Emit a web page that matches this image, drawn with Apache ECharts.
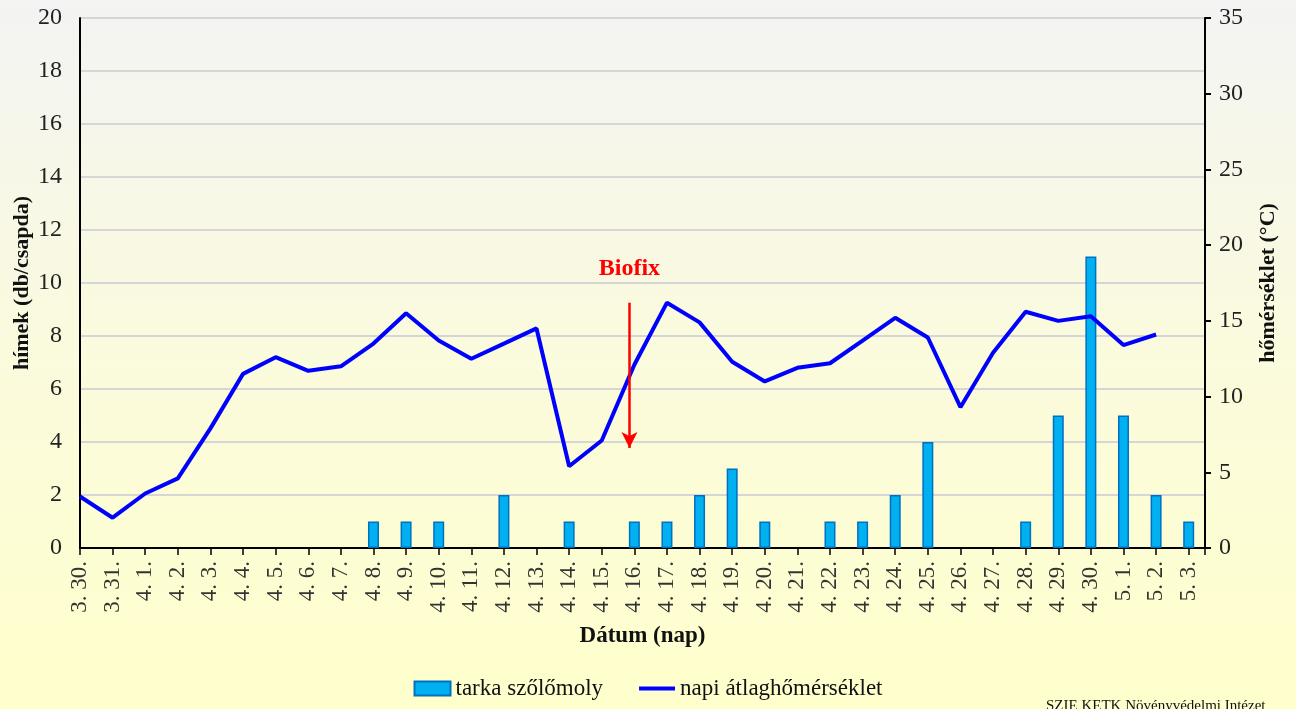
<!DOCTYPE html>
<html>
<head>
<meta charset="utf-8">
<script src="https://cdn.jsdelivr.net/npm/echarts@6/dist/echarts.min.js"></script>
<style>
  html, body { margin: 0; padding: 0; }
  #box { width: 1296px; height: 709px; }
</style>
</head>
<body>
<div id="box"></div>
<script>
var dates = ['3. 30.', '3. 31.', '4. 1.', '4. 2.', '4. 3.', '4. 4.', '4. 5.', '4. 6.', '4. 7.', '4. 8.',
  '4. 9.', '4. 10.', '4. 11.', '4. 12.', '4. 13.', '4. 14.', '4. 15.', '4. 16.', '4. 17.', '4. 18.',
  '4. 19.', '4. 20.', '4. 21.', '4. 22.', '4. 23.', '4. 24.', '4. 25.', '4. 26.', '4. 27.', '4. 28.',
  '4. 29.', '4. 30.', '5. 1.', '5. 2.', '5. 3.'];

// tarka szőlőmoly (db/csapda)
var moths = [0, 0, 0, 0, 0, 0, 0, 0, 0, 1,
  1, 1, 0, 2, 0, 1, 0, 1, 1, 2,
  3, 1, 0, 1, 1, 2, 4, 0, 0, 1,
  5, 11, 5, 2, 1];

// napi átlaghőmérséklet (°C)
var temps = [3.4, 2.0, 3.6, 4.6, 7.9, 11.5, 12.6, 11.7, 12.0, 13.5,
  15.5, 13.7, 12.5, 13.5, 14.5, 5.4, 7.1, 12.1, 16.2, 14.9,
  12.3, 11.0, 11.9, 12.2, 13.7, 15.2, 13.9, 9.3, 12.9, 15.6,
  15.0, 15.3, 13.4, 14.1, null];

// Biofix nyíl (x index, hőmérséklet tengelyen)
var biofixX = 16.85;
var biofixTop = 16.2;
var biofixBottom = 6.6;

var serif = '"Liberation Serif", "Times New Roman", serif';

var barData = [];
moths.forEach(function (v, i) { if (v > 0) barData.push([i, v]); });
var lineData = temps.map(function (v, i) { return [i, v]; });

var myChart = echarts.init(document.getElementById('box'));

option = {
  backgroundColor: {
    type: 'linear', x: 0, y: 0, x2: 0, y2: 1,
    colorStops: [
      { offset: 0, color: '#F3F4F3' },
      { offset: 0.45, color: '#FAFADF' },
      { offset: 1, color: '#FFFFCC' }
    ]
  },
  title: {
    text: 'SZIE KETK Növényvédelmi Intézet',
    left: 1041,
    top: 694,
    textStyle: { fontFamily: serif, fontSize: 15, fontWeight: 'normal', color: '#111' }
  },
  legend: {
    bottom: 4,
    left: 'center',
    itemWidth: 36,
    itemHeight: 14,
    itemGap: 36,
    textStyle: { fontFamily: serif, fontSize: 23, color: '#111' },
    data: [
      { name: 'tarka szőlőmoly', icon: 'rect' },
      { name: 'napi átlaghőmérséklet', icon: 'path://M0,0H36V4H0Z' }
    ]
  },
  grid: {
    left: 80,
    right: 91,
    top: 18,
    bottom: 161,
    outerBoundsMode: 'none'
  },
  xAxis: {
    type: 'value',
    min: 0,
    max: 34.5,
    interval: 1,
    name: 'Dátum (nap)',
    nameLocation: 'middle',
    nameGap: 77,
    nameTextStyle: { fontFamily: serif, fontSize: 23, fontWeight: 'bold', color: '#111' },
    splitLine: { show: false },
    axisLine: { lineStyle: { color: '#000', width: 2 } },
    axisTick: { length: 7, lineStyle: { color: '#000', width: 1.5 } },
    axisLabel: {
      rotate: 90,
      margin: 13,
      fontFamily: serif,
      fontSize: 23,
      color: '#333',
      formatter: function (v) { return Number.isInteger(v) ? dates[v] : ''; }
    }
  },
  yAxis: [
    {
      type: 'value',
      min: 0,
      max: 20,
      interval: 2,
      name: 'hímek (db/csapda)',
      nameLocation: 'middle',
      nameRotate: 90,
      nameGap: 47,
      nameMoveOverlap: false,
      nameTextStyle: { fontFamily: serif, fontSize: 22, fontWeight: 'bold', color: '#111' },
      axisLine: { show: true, lineStyle: { color: '#000', width: 2 } },
      axisTick: { show: false },
      axisLabel: { margin: 18, fontFamily: serif, fontSize: 24, color: '#222' },
      splitLine: { lineStyle: { color: '#D6D6D6', width: 2 } }
    },
    {
      type: 'value',
      min: 0,
      max: 35,
      interval: 5,
      position: 'right',
      name: 'hőmérséklet (°C)',
      nameLocation: 'middle',
      nameRotate: 90,
      nameGap: 52,
      nameMoveOverlap: false,
      nameTextStyle: { fontFamily: serif, fontSize: 22, fontWeight: 'bold', color: '#111' },
      axisLine: { show: true, lineStyle: { color: '#000', width: 2 } },
      axisTick: { show: true, length: 6, lineStyle: { color: '#000', width: 2 } },
      axisLabel: { margin: 14, fontFamily: serif, fontSize: 24, color: '#222' },
      splitLine: { show: false }
    }
  ],
  series: [
    {
      name: 'tarka szőlőmoly',
      type: 'bar',
      yAxisIndex: 0,
      barWidth: 11,
      itemStyle: { color: '#00B0F0', borderColor: '#0070C0', borderWidth: 1.5 },
      data: barData
    },
    {
      name: 'napi átlaghőmérséklet',
      type: 'line',
      yAxisIndex: 1,
      symbol: 'none',
      lineStyle: { color: '#0000FF', width: 4 },
      itemStyle: { color: '#0000FF' },
      data: lineData,
      markLine: {
        silent: true,
        symbol: ['none', 'arrow'],
        symbolSize: [12, 16],
        lineStyle: { color: '#FF0000', width: 2.5, type: 'solid' },
        label: {
          show: true,
          position: 'start',
          distance: 22,
          formatter: 'Biofix',
          fontFamily: serif,
          fontSize: 24,
          fontWeight: 'bold',
          color: '#FF0000'
        },
        data: [[
          { coord: [biofixX, biofixTop] },
          { coord: [biofixX, biofixBottom] }
        ]]
      }
    }
  ]
};
myChart.setOption(option);
</script>
</body>
</html>
